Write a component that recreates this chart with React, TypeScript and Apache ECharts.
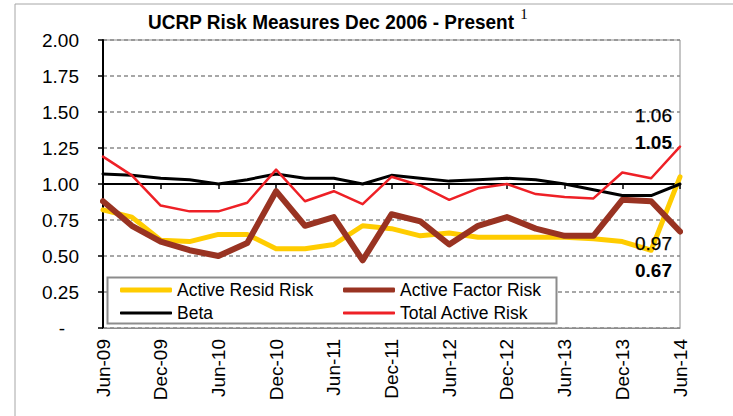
import React, { useEffect, useRef } from "react";
import * as echarts from "echarts";

const categories = [
  "Jun-09", "Sep-09", "Dec-09", "Mar-10", "Jun-10", "Sep-10", "Dec-10",
  "Mar-11", "Jun-11", "Sep-11", "Dec-11", "Mar-12", "Jun-12", "Sep-12",
  "Dec-12", "Mar-13", "Jun-13", "Sep-13", "Dec-13", "Mar-14", "Jun-14",
];
const activeResidRisk = [0.82, 0.77, 0.61, 0.6, 0.65, 0.65, 0.55, 0.55, 0.58, 0.71, 0.69, 0.64, 0.66, 0.63, 0.63, 0.63, 0.63, 0.62, 0.6, 0.54, 1.05];
const activeFactorRisk = [0.88, 0.71, 0.6, 0.54, 0.5, 0.59, 0.95, 0.71, 0.77, 0.47, 0.79, 0.74, 0.58, 0.71, 0.77, 0.69, 0.64, 0.64, 0.89, 0.88, 0.67];
const beta = [1.07, 1.06, 1.04, 1.03, 1.0, 1.03, 1.07, 1.04, 1.04, 1.0, 1.06, 1.04, 1.02, 1.03, 1.04, 1.03, 1.0, 0.96, 0.92, 0.92, 1.0];
const totalActiveRisk = [1.19, 1.06, 0.85, 0.81, 0.81, 0.87, 1.1, 0.88, 0.95, 0.86, 1.05, 0.99, 0.89, 0.97, 1.0, 0.93, 0.91, 0.9, 1.08, 1.04, 1.26];
const seriesNames = ["Active Resid Risk", "Active Factor Risk", "Beta", "Total Active Risk"];
const annotations = ["1.06", "1.05", "0.97", "0.67"];

const FONT = "'Liberation Sans', Arial, sans-serif";

export default function App() {
  const ref = useRef<HTMLDivElement>(null);
  useEffect(() => {
    if (!ref.current) return;
    const chart = echarts.init(ref.current, undefined, { renderer: "svg" });
    const colors = ["#FFCC00", "#993322", "#000000", "#EE2026"];
    const widths = [5, 6, 3, 2.5];
    const dataSets = [activeResidRisk, activeFactorRisk, beta, totalActiveRisk];
    const legendPos = [
      { left: 120, top: 281, h: 5 },
      { left: 343, top: 281, h: 5 },
      { left: 120, top: 304, h: 3 },
      { left: 343, top: 304, h: 3 },
    ];
    chart.setOption({
      animation: false,
      backgroundColor: "#ffffff",
      grid: { left: 103, right: 53, top: 40, bottom: 88, show: true, borderColor: "#8c8c8c", borderWidth: 1 },
      legend: seriesNames.map((n, i) => ({
        data: [{ name: n, icon: "roundRect" }],
        left: legendPos[i].left,
        top: legendPos[i].top,
        padding: 0,
        itemWidth: 52,
        itemHeight: legendPos[i].h,
        z: 6,
        textStyle: { fontFamily: FONT, fontSize: 17.5, color: "#000" },
      })),
      xAxis: [
        {
          type: "category",
          data: categories,
          boundaryGap: false,
          position: "bottom",
          axisLine: { show: true, lineStyle: { color: "#8c8c8c", width: 1 } },
          axisTick: { show: false },
          axisLabel: { interval: 1, rotate: 90, margin: 11, fontFamily: FONT, fontSize: 19, color: "#000" },
          splitLine: { show: false },
        },
        {
          type: "category",
          data: categories,
          boundaryGap: false,
          position: "bottom",
          offset: -144,
          axisLine: { show: true, lineStyle: { color: "#000", width: 2 } },
          axisTick: { show: true, interval: 1, length: 5, lineStyle: { color: "#000", width: 1.5 } },
          axisLabel: { show: false },
          splitLine: { show: false },
        },
      ],
      yAxis: {
        type: "value",
        min: 0,
        max: 2,
        interval: 0.25,
        axisLine: { show: true, lineStyle: { color: "#000", width: 2 } },
        axisTick: { show: true, length: 5, lineStyle: { color: "#000", width: 1.5 } },
        axisLabel: {
          margin: 24,
          fontFamily: FONT,
          fontSize: 19,
          color: "#000",
          formatter: (v: number) => (v === 0 ? "{z|-}" : v.toFixed(2)),
          rich: { z: { fontFamily: FONT, fontSize: 19, color: "#000", padding: [0, 14, 0, 0] } },
        },
        splitLine: { show: true, lineStyle: { color: "#8a8a8a", type: [4, 3], width: 1.5 } },
      },
      series: seriesNames.map((n, i) => ({
        name: n,
        type: "line",
        data: dataSets[i],
        symbol: "none",
        z: 2 + i,
        itemStyle: { color: colors[i] },
        lineStyle: { color: colors[i], width: widths[i], join: "round", cap: "round" },
      })),
      graphic: [
        { type: "rect", left: 12.5, top: 1.5, shape: { width: 760, height: 500 }, style: { fill: "none", stroke: "#a6a6a6", lineWidth: 1 }, z: 0, silent: true },
        { type: "rect", x: 107.5, y: 277.5, shape: { width: 449, height: 46 }, style: { fill: "#ffffff", stroke: "#8c8c8c", lineWidth: 2 }, z: 5 },
        { type: "text", x: 331, y: 22, scaleX: 0.95, style: { text: "UCRP Risk Measures Dec 2006 - Present", font: `bold 20px ${FONT}`, fill: "#000", textAlign: "center", textVerticalAlign: "middle" }, z: 10 },
        { type: "text", x: 524, y: 14, style: { text: "1", font: `15px 'Liberation Serif', 'Times New Roman', serif`, fill: "#000", textAlign: "center", textVerticalAlign: "middle" }, z: 10 },
        { type: "text", x: 672, y: 115, style: { text: annotations[0], font: `19px ${FONT}`, fill: "#000", stroke: "#000", lineWidth: 0.25, textAlign: "right", textVerticalAlign: "middle" }, z: 10 },
        { type: "text", x: 672, y: 142, style: { text: annotations[1], font: `bold 19px ${FONT}`, fill: "#000", textAlign: "right", textVerticalAlign: "middle" }, z: 10 },
        { type: "text", x: 672, y: 243, style: { text: annotations[2], font: `19px ${FONT}`, fill: "#000", stroke: "#000", lineWidth: 0.25, textAlign: "right", textVerticalAlign: "middle" }, z: 10 },
        { type: "text", x: 672, y: 270, style: { text: annotations[3], font: `bold 19px ${FONT}`, fill: "#000", textAlign: "right", textVerticalAlign: "middle" }, z: 10 },
      ],
    });
    return () => chart.dispose();
  }, []);
  return (
    <div
      ref={ref}
      style={{ position: "fixed", left: 0, top: 0, width: 733, height: 416, background: "#fff" }}
    />
  );
}
